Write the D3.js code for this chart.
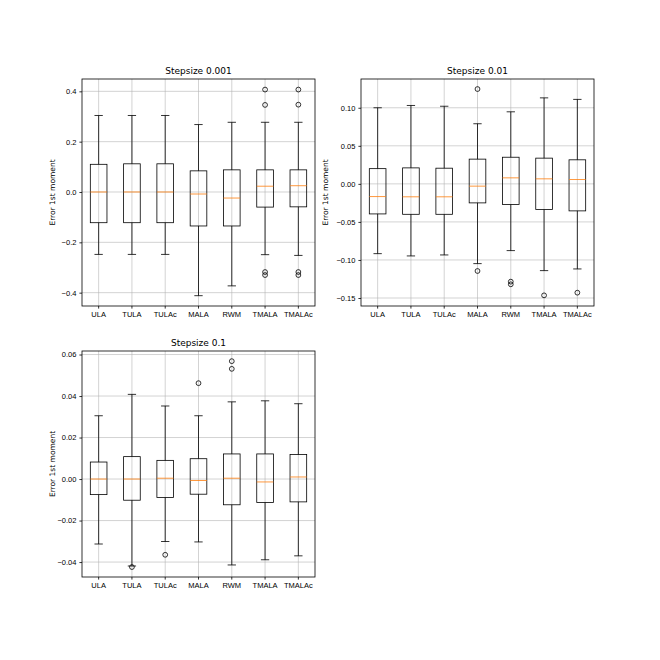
<!DOCTYPE html>
<html>
<head>
<meta charset="utf-8">
<script src="https://cdn.jsdelivr.net/npm/d3@7"></script>
<style>
  body { margin: 0; background: #fff; }
  svg { font-family: "DejaVu Sans", sans-serif; }
  .grid line { stroke: #b0b0b0; stroke-width: 0.8px; stroke-opacity: 0.7; }
  .axis text { font-size: 7.5px; fill: #000; }
  .axis path, .axis line { stroke: #000; stroke-width: 0.8px; }
</style>
</head>
<body>
<svg id="chart" width="660" height="660"></svg>
<script>
const methods = ['ULA', 'TULA', 'TULAc', 'MALA', 'RWM', 'TMALA', 'TMALAc'];

// [whiskerLow, q1, median, q3, whiskerHigh]
const stats001 = [
  [-0.248, -0.122, 0.000, 0.110, 0.304],
  [-0.248, -0.122, 0.000, 0.112, 0.304],
  [-0.248, -0.122, 0.000, 0.112, 0.304],
  [-0.412, -0.135, -0.008, 0.084, 0.268],
  [-0.373, -0.135, -0.024, 0.088, 0.277],
  [-0.249, -0.060, 0.023, 0.088, 0.277],
  [-0.252, -0.059, 0.025, 0.088, 0.277]
];
const fliers001 = [[], [], [], [], [], [0.407, 0.346, -0.318, -0.330], [0.407, 0.347, -0.318, -0.330]];

const stats01 = [
  [-0.0917, -0.0395, -0.0167, 0.0200, 0.1000],
  [-0.0947, -0.0400, -0.0170, 0.0210, 0.1030],
  [-0.0934, -0.0400, -0.0170, 0.0206, 0.1020],
  [-0.1048, -0.0250, -0.0030, 0.0325, 0.0790],
  [-0.0877, -0.0272, 0.0079, 0.0350, 0.0947],
  [-0.1140, -0.0338, 0.0066, 0.0338, 0.1130],
  [-0.1118, -0.0355, 0.0057, 0.0316, 0.1110]
];
const fliers01 = [[], [], [], [0.1246, -0.1145], [-0.1285, -0.1320], [-0.1465], [-0.1430]];

const stats1 = [
  [-0.0313, -0.0075, 0.0000, 0.0082, 0.0305],
  [-0.0419, -0.0102, 0.0000, 0.0108, 0.0408],
  [-0.0301, -0.0089, 0.0004, 0.0090, 0.0352],
  [-0.0303, -0.0073, -0.0007, 0.0098, 0.0305],
  [-0.0414, -0.0124, 0.0004, 0.0121, 0.0372],
  [-0.0389, -0.0113, -0.0014, 0.0121, 0.0377],
  [-0.0370, -0.0110, 0.0010, 0.0118, 0.0363]
];
const fliers1 = [[], [-0.0424], [-0.0365], [0.0462], [0.0568, 0.0531], [], []];

const panels = [
  { title: 'Stepsize 0.001', stats: stats001, fliers: fliers001, domain: [-0.453, 0.449],
    ticks: [-0.4, -0.2, 0, 0.2, 0.4], fmt: d3.format('.1f'), box: [82, 79, 315, 306] },
  { title: 'Stepsize 0.01', stats: stats01, fliers: fliers01, domain: [-0.1605, 0.1378],
    ticks: [-0.15, -0.10, -0.05, 0, 0.05, 0.10], fmt: d3.format('.2f'), box: [361, 79, 594, 306] },
  { title: 'Stepsize 0.1', stats: stats1, fliers: fliers1, domain: [-0.0472, 0.0617],
    ticks: [-0.04, -0.02, 0, 0.02, 0.04, 0.06], fmt: d3.format('.2f'), box: [82, 351, 315, 577] }
];

const svg = d3.select('#chart');
const minus = s => s.replace('-', '\u2212');

panels.forEach(p => {
  const [x0, y0, x1, y1] = p.box;
  const g = svg.append('g');

  const x = d3.scaleBand().domain(methods).range([x0, x1]).padding(0);
  const y = d3.scaleLinear().domain(p.domain).range([y1, y0]);
  const cx = m => x(m) + x.bandwidth() / 2;
  const half = x.bandwidth() * 0.25;   // box half width (width 0.5)
  const cap = x.bandwidth() * 0.125;   // cap half width

  // grid
  const grid = g.append('g').attr('class', 'grid');
  grid.selectAll('.gy').data(p.ticks).enter().append('line')
    .attr('x1', x0).attr('x2', x1).attr('y1', d => y(d)).attr('y2', d => y(d));
  grid.selectAll('.gx').data(methods).enter().append('line')
    .attr('y1', y0).attr('y2', y1).attr('x1', cx).attr('x2', cx);

  // boxes
  const boxes = g.selectAll('.bx').data(methods).enter().append('g');
  boxes.each(function (m, i) {
    const s = p.stats[i];
    const b = d3.select(this);
    const c = cx(m);
    const seg = (xa, xb, ya, yb, col) => b.append('line')
      .attr('x1', xa).attr('x2', xb).attr('y1', ya).attr('y2', yb)
      .attr('stroke', col || '#000').attr('stroke-width', 0.8);
    seg(c, c, y(s[3]), y(s[4]));
    seg(c, c, y(s[0]), y(s[1]));
    seg(c - cap, c + cap, y(s[4]), y(s[4]));
    seg(c - cap, c + cap, y(s[0]), y(s[0]));
    b.append('rect').attr('x', c - half).attr('width', half * 2)
      .attr('y', y(s[3])).attr('height', y(s[1]) - y(s[3]))
      .attr('fill', 'none').attr('stroke', '#000').attr('stroke-width', 0.8);
    seg(c - half, c + half, y(s[2]), y(s[2]), '#ff7f0e');
    b.selectAll('circle').data(p.fliers[i]).enter().append('circle')
      .attr('cx', c).attr('cy', d => y(d)).attr('r', 2.4)
      .attr('fill', 'none').attr('stroke', '#000').attr('stroke-width', 0.8);
  });

  // axes
  g.append('g').attr('class', 'axis')
    .attr('transform', `translate(0,${y1})`)
    .call(d3.axisBottom(x).tickSize(2.6).tickPadding(3))
    .call(a => a.select('.domain').remove());
  g.append('g').attr('class', 'axis')
    .attr('transform', `translate(${x0},0)`)
    .call(d3.axisLeft(y).tickValues(p.ticks).tickFormat(d => minus(p.fmt(d))).tickSize(2.6).tickPadding(3))
    .call(a => a.select('.domain').remove());

  // frame
  g.append('rect').attr('x', x0).attr('y', y0).attr('width', x1 - x0).attr('height', y1 - y0)
    .attr('fill', 'none').attr('stroke', '#000').attr('stroke-width', 0.8);

  g.append('text').attr('x', (x0 + x1) / 2).attr('y', y0 - 5)
    .attr('text-anchor', 'middle').attr('font-size', 9).text(p.title);

  const labelX = p.title === 'Stepsize 0.01' ? x0 - 33 : x0 - 27;
  g.append('text')
    .attr('transform', `translate(${labelX},${(y0 + y1) / 2}) rotate(-90)`)
    .attr('text-anchor', 'middle').attr('font-size', 7.5).text('Error 1st moment');
});
</script>
</body>
</html>
